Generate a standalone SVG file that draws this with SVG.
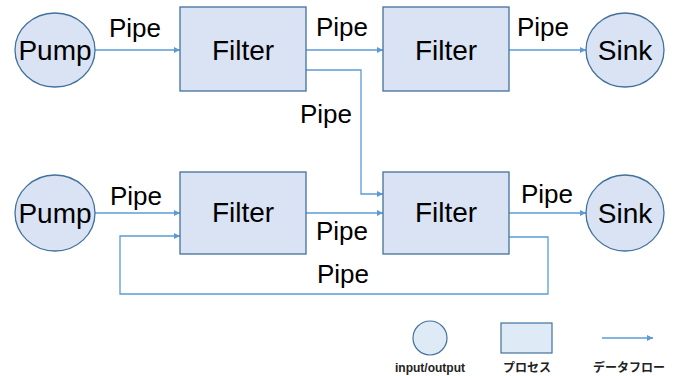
<svg xmlns="http://www.w3.org/2000/svg" width="678" height="376" viewBox="0 0 678 376">
  <style>
    .io { fill: #dae3f3; stroke: #41719c; stroke-width: 1.3; }
    .proc { fill: #dae3f3; stroke: #41719c; stroke-width: 1.3; }
    .flow { fill: none; stroke: #5b9bd5; stroke-width: 1.3; }
    .lbl { font-family: "Liberation Sans", Arial, sans-serif; font-size: 26px; fill: #000; }
    .name { font-family: "Liberation Sans", Arial, sans-serif; font-size: 28px; fill: #000; text-anchor: middle; }
    .leg { font-family: "Liberation Sans", "Noto Sans CJK JP", sans-serif; font-size: 12px; font-weight: bold; fill: #222; text-anchor: middle; }
  </style>
  <defs>
    <marker id="arrow" viewBox="0 0 8 8" refX="8" refY="4" markerWidth="6" markerHeight="6" markerUnits="userSpaceOnUse" orient="auto">
      <path d="M0,0 L8,4 L0,8 z" fill="#5b9bd5"/>
    </marker>
  </defs>
  <rect width="678" height="376" fill="#fff"/>

  <!-- connectors -->
  <g id="connectors">
    <path class="flow" d="M95,50 H180" marker-end="url(#arrow)"/>
    <path class="flow" d="M306,50 H383" marker-end="url(#arrow)"/>
    <path class="flow" d="M509,50 H586" marker-end="url(#arrow)"/>
    <path class="flow" d="M306,70 H361 V194 H383" marker-end="url(#arrow)"/>
    <path class="flow" d="M95,213 H180" marker-end="url(#arrow)"/>
    <path class="flow" d="M306,213 H383" marker-end="url(#arrow)"/>
    <path class="flow" d="M509,213 H586" marker-end="url(#arrow)"/>
    <path class="flow" d="M509,237 H548 V294 H120 V236 H180" marker-end="url(#arrow)"/>
    <text class="lbl" x="109" y="37">Pipe</text>
    <text class="lbl" x="316" y="36">Pipe</text>
    <text class="lbl" x="517" y="36">Pipe</text>
    <text class="lbl" x="300" y="123">Pipe</text>
    <text class="lbl" x="110" y="205">Pipe</text>
    <text class="lbl" x="316" y="240">Pipe</text>
    <text class="lbl" x="521" y="203">Pipe</text>
    <text class="lbl" x="317" y="283">Pipe</text>
  </g>

  <!-- top row -->
  <g id="pump1">
    <ellipse class="io" cx="55" cy="50" rx="40" ry="37"/>
    <text class="name" x="55" y="60">Pump</text>
  </g>
  <g id="filter1">
    <rect class="proc" x="180" y="7" width="126" height="84"/>
    <text class="name" x="243" y="60">Filter</text>
  </g>
  <g id="filter2">
    <rect class="proc" x="383" y="7" width="126" height="84"/>
    <text class="name" x="446" y="60">Filter</text>
  </g>
  <g id="sink1">
    <ellipse class="io" cx="625" cy="50" rx="39" ry="37"/>
    <text class="name" x="625" y="60">Sink</text>
  </g>

  <!-- bottom row -->
  <g id="pump2">
    <ellipse class="io" cx="55" cy="213" rx="40" ry="38"/>
    <text class="name" x="55" y="223">Pump</text>
  </g>
  <g id="filter3">
    <rect class="proc" x="180" y="172" width="126" height="82"/>
    <text class="name" x="243" y="222">Filter</text>
  </g>
  <g id="filter4">
    <rect class="proc" x="383" y="172" width="126" height="82"/>
    <text class="name" x="446" y="222">Filter</text>
  </g>
  <g id="sink2">
    <ellipse class="io" cx="625" cy="213" rx="39" ry="38"/>
    <text class="name" x="625" y="223">Sink</text>
  </g>

  <!-- legend -->
  <g id="legend">
    <circle cx="430" cy="338" r="17" fill="#deebf7" stroke="#41719c" stroke-width="1.2"/>
    <rect x="501" y="323" width="51" height="30" fill="#deebf7" stroke="#41719c" stroke-width="1.2"/>
    <path class="flow" d="M602,338 H653" marker-end="url(#arrow)"/>
    <text class="leg" x="430" y="372">input/output</text>
    <text class="leg" x="527" y="372">プロセス</text>
    <text class="leg" x="629" y="372">データフロー</text>
  </g>
</svg>
